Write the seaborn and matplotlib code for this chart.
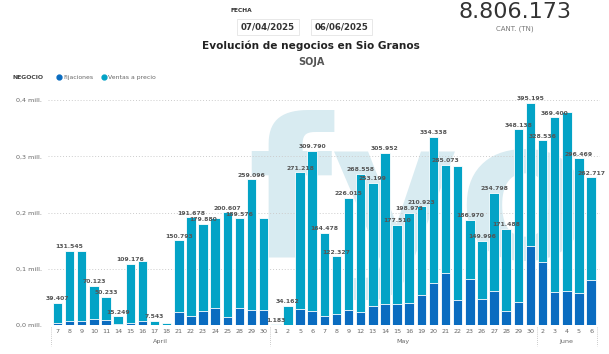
import matplotlib
matplotlib.use("Agg")
import matplotlib.pyplot as plt
import seaborn as sns
import pandas as pd
from matplotlib.ticker import FuncFormatter
from matplotlib.lines import Line2D

# datos (toneladas)
dias = ["7", "8", "9", "10", "11", "14", "15", "16", "17", "18", "21", "22", "23", "24", "25", "28", "29", "30",
        "1", "2", "5", "6", "7", "8", "9", "12", "13", "14", "15", "16", "19", "20", "21", "22", "23", "26", "27",
        "28", "29", "30",
        "2", "3", "4", "5", "6"]
meses = ["April"] * 18 + ["May"] * 22 + ["June"] * 5

total = [39407, 131545, 131500, 70123, 50233, 15249, 109176, 113000, 7543, 3000,
         150793, 191678, 179880, 191000, 200607, 189576, 259096, 189500,
         1183, 34162, 271218, 309790, 164478, 122327, 226015, 268558, 253199, 305952,
         177510, 198973, 210923, 334338, 285073, 283000, 186970, 149996, 234798, 171488,
         348138, 395195,
         328536, 369400, 378000, 296469, 262717]
fijaciones = [3000, 6500, 6500, 10700, 9500, 2000, 3000, 7600, 0, 0,
              23700, 15400, 24000, 31000, 15000, 29600, 26700, 26700,
              0, 0, 28400, 25000, 16000, 19000, 26000, 23000, 33000, 37000,
              37000, 39000, 53000, 74000, 93000, 44000, 81000, 47000, 60000, 25000,
              41000, 141000,
              112000, 58600, 60000, 57000, 80000]
# etiquetas ocultas por el grafico original
ocultas = [2, 7, 9, 13, 17, 33, 42]

total_general = "8.806.173"
fecha_desde = "07/04/2025"
fecha_hasta = "06/06/2025"

c_fij = "#0a6cc0"
c_ven = "#03a3c6"

df = pd.DataFrame({
    "clave": [f"{m}-{d}" for m, d in zip(meses, dias)],
    "total": total,
    "fijaciones": fijaciones,
})

sns.set_theme(style="white")
plt.rcParams["font.family"] = ["DejaVu Sans"]

fig = plt.figure(figsize=(6.09, 3.54), dpi=100)
ax = fig.add_axes([0.0785, 0.082, 0.906, 0.667])
ax.set_facecolor("none")

# marca de agua
fig.text(0.69, 0.42, "fyo", fontsize=140, fontweight="bold", color="#d8ebf1",
         ha="center", va="center", zorder=-5)

sns.barplot(data=df, x="clave", y="total", color=c_ven, saturation=1, width=0.78,
            edgecolor="white", linewidth=0.6, ax=ax, zorder=3)
sns.barplot(data=df, x="clave", y="fijaciones", color=c_fij, saturation=1, width=0.78,
            edgecolor="white", linewidth=0.6, ax=ax, zorder=4)

for i, v in enumerate(total):
    if i in ocultas:
        continue
    ax.text(i, v + 3000, f"{v:,}".replace(",", "."), ha="center", va="bottom",
            fontsize=4.4, fontweight="bold", color="#555555", zorder=6)

ax.set_xlim(-0.8, 44.7)
ax.set_ylim(0, 420000)
ax.set_yticks([0, 100000, 200000, 300000, 400000])
ax.yaxis.set_major_formatter(FuncFormatter(lambda v, _: f"{v / 1e6:.1f}".replace(".", ",") + " mill."))
ax.yaxis.grid(True, linestyle=(0, (1, 2)), color="#cccccc", linewidth=0.7)
ax.set_axisbelow(True)
ax.set_xticks(range(len(dias)), dias)
ax.tick_params(axis="both", length=0, labelsize=4.6, colors="#666666")
ax.tick_params(axis="x", pad=3)
ax.tick_params(axis="y", pad=4)
ax.set_xlabel("")
ax.set_ylabel("")
sns.despine(ax=ax, left=True, bottom=True)

# meses y separadores
tr = ax.get_xaxis_transform()
for x in [-0.5, 17.5, 39.5, 44.5]:
    ax.plot([x, x], [-0.01, -0.09], transform=tr, clip_on=False, color="#bbbbbb",
            linestyle=(0, (1, 1.5)), linewidth=0.6)
for mes, ini, fin in [("April", 0, 17), ("May", 18, 39), ("June", 40, 44)]:
    ax.text((ini + fin) / 2, -0.06, mes, transform=tr, ha="center", va="top",
            fontsize=4.6, color="#666666")

# encabezado
fig.text(0.396, 0.969, "FECHA", fontsize=4.2, fontweight="bold", color="#333333", ha="center", va="center")
for cx, txt in [(0.440, fecha_desde), (0.561, fecha_hasta)]:
    fig.text(cx, 0.924, txt, fontsize=6.2, fontweight="bold", color="#333333", ha="center", va="center",
             bbox=dict(boxstyle="square,pad=0.45", facecolor="white", edgecolor="#e4e4e4", linewidth=0.6))
fig.text(0.511, 0.871, "Evolución de negocios en Sio Granos", fontsize=7.6, fontweight="bold",
         color="#222222", ha="center", va="center")
fig.text(0.511, 0.825, "SOJA", fontsize=7, fontweight="bold", color="#555555", ha="center", va="center")
fig.text(0.845, 0.965, total_general, fontsize=16, color="#333333", ha="center", va="center")
fig.text(0.845, 0.918, "CANT. (TN)", fontsize=5, color="#777777", ha="center", va="center")

# leyenda
fig.text(0.02, 0.782, "NEGOCIO", fontsize=4.4, fontweight="bold", color="#444444", ha="left", va="center")
for x0, col, txt in [(0.097, c_fij, "Fijaciones"), (0.170, c_ven, "Ventas a precio")]:
    fig.add_artist(Line2D([x0], [0.782], marker="o", markersize=3.5, color=col, transform=fig.transFigure))
    fig.text(x0 + 0.007, 0.782, txt, fontsize=4.4, color="#666666", ha="left", va="center")

fig.savefig("out.png", dpi=100)
